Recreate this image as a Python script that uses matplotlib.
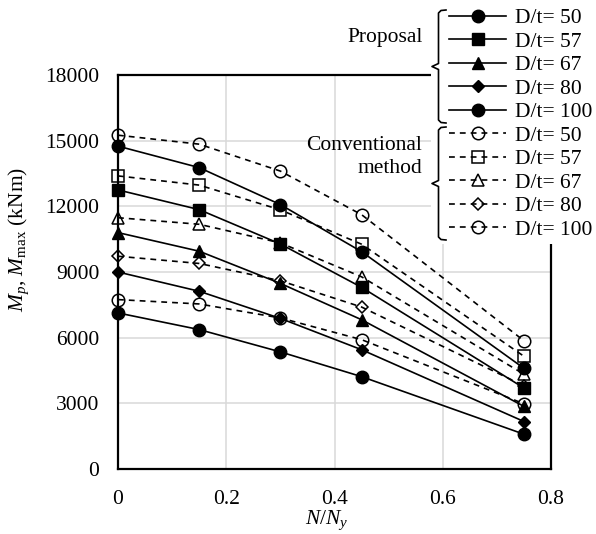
import matplotlib
matplotlib.use('Agg')
import matplotlib.pyplot as plt
from matplotlib.lines import Line2D
from matplotlib.patches import Rectangle

plt.rcParams['font.family'] = ['Liberation Serif', 'DejaVu Serif']
plt.rcParams['mathtext.fontset'] = 'custom'
plt.rcParams['mathtext.rm'] = 'Liberation Serif'
plt.rcParams['mathtext.it'] = 'Liberation Serif:italic'
plt.rcParams['mathtext.bf'] = 'Liberation Serif:bold'

W, H = 596, 534
FS = 15.5

# Axial force ratio N/Ny
axial_ratio = [0, 0.15, 0.3, 0.45, 0.75]
dt_values = ['50', '57', '67', '80', '100']

# Proposed method: plastic moment Mp (kNm)
prop_50 = [7130, 6370, 5350, 4220, 1590]
prop_57 = [12750, 11850, 10280, 8300, 3700]
prop_67 = [10800, 9950, 8480, 6820, 2860]
prop_80 = [9000, 8120, 6880, 5450, 2170]
prop_100 = [14750, 13770, 12080, 9930, 4600]

# Conventional method: maximum moment Mmax (kNm)
conv_50 = [7740, 7540, 6900, 5910, 2980]
conv_57 = [13390, 12970, 11840, 10270, 5150]
conv_67 = [11480, 11180, 10330, 8780, 4330]
conv_80 = [9720, 9390, 8600, 7400, 3800]
conv_100 = [15250, 14840, 13610, 11620, 5860]

x_ticks = [0, 0.2, 0.4, 0.6, 0.8]
x_tick_labels = ['0', '0.2', '0.4', '0.6', '0.8']
y_ticks = [0, 3000, 6000, 9000, 12000, 15000, 18000]

proposal = [prop_50, prop_57, prop_67, prop_80, prop_100]
conventional = [conv_50, conv_57, conv_67, conv_80, conv_100]
markers = ['o', 's', '^', 'D', 'o']
sizes = [9.0, 8.6, 9.0, 6.3, 9.0]


def fx(px):
    return px / W


def fy(py):
    return 1 - py / H


fig = plt.figure(figsize=(W / 100, H / 100), dpi=100)
ax = fig.add_axes([fx(118), fy(469), (551 - 118) / W, (469 - 75) / H])

handles = []
for vals, m, s, dt in zip(proposal, markers, sizes, dt_values):
    ln, = ax.plot(axial_ratio, vals, color='black', lw=1.2, marker=m, ms=s,
                  mfc='black', mec='black', mew=1.0, clip_on=False, zorder=3,
                  label=f'D/t= {dt}')
    handles.append(ln)
for vals, m, s, dt in zip(conventional, markers, sizes, dt_values):
    ln, = ax.plot(axial_ratio, vals, color='black', lw=1.2, ls=(0, (3.5, 3)),
                  marker=m, ms=s, mfc='none', mec='black', mew=1.1,
                  clip_on=False, zorder=3, label=f'D/t= {dt}')
    handles.append(ln)

ax.set_xlim(0, 0.8)
ax.set_ylim(0, 18000)
ax.set_xticks(x_ticks)
ax.set_xticklabels(x_tick_labels)
ax.set_yticks(y_ticks)
ax.tick_params(axis='y', length=0, labelsize=FS, pad=13.5)
ax.tick_params(axis='x', length=0, labelsize=FS, pad=15)
ax.grid(True, color='#d9d9d9', lw=1.1)
ax.set_axisbelow(True)
for sp in ax.spines.values():
    sp.set_linewidth(1.6)
    sp.set_color('black')

ax.set_ylabel(r'$M_p$, $M_{\mathrm{max}}$ (kNm)', fontsize=FS, ha='center', va='center')
ax.yaxis.set_label_coords((19 - 118) / 433, (469 - 239) / 394)
ax.set_xlabel(r'$N/N_y$', fontsize=FS, ha='center', va='baseline')
ax.xaxis.set_label_coords((327 - 118) / 433, (469 - 524) / 394)

# White panel holding the grouped legend
fig.add_artist(Rectangle((fx(431), fy(244)), 1 - fx(431), fy(0) - fy(244),
                         transform=fig.transFigure, facecolor='white',
                         edgecolor='none', zorder=1))

leg = fig.legend(handles=handles, loc='upper left',
                 bbox_to_anchor=(fx(449), fy(8)), bbox_transform=fig.transFigure,
                 frameon=False, fontsize=FS, handlelength=2.65,
                 handletextpad=0.42, labelspacing=0.16, borderpad=0,
                 borderaxespad=0, numpoints=1)
leg.set_zorder(4)


def brace(y0, y1):
    ym = (y0 + y1) / 2
    xs = [446, 441, 438.5, 438.5, 432, 438.5, 438.5, 441, 446]
    ys = [y0, y0 + 0.5, y0 + 3, ym - 3, ym, ym + 3, y1 - 3, y1 - 0.5, y1]
    fig.add_artist(Line2D([fx(v) for v in xs], [fy(v) for v in ys],
                          transform=fig.transFigure, color='black', lw=1.2,
                          zorder=3))


brace(10, 123)
brace(127, 240)

fig.text(fx(423), fy(37), 'Proposal', fontsize=FS, ha='right', va='center', zorder=3)
fig.text(fx(422), fy(157), 'Conventional\nmethod', fontsize=FS, ha='right',
         va='center', multialignment='right', linespacing=1.25, zorder=3)

fig.savefig('out.png', dpi=100)
